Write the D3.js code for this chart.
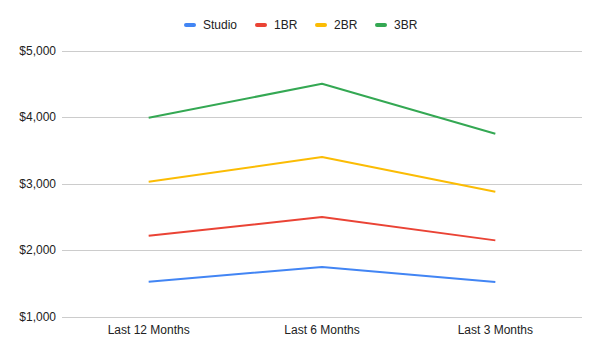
<!DOCTYPE html>
<html lang="en">
<head>
<meta charset="utf-8">
<script src="https://d3js.org/d3.v7.min.js"></script>
<style>
body { margin: 0; background: #fff; font-family: Arial, "Liberation Sans", sans-serif; }
.axis text { font: 12px Arial, "Liberation Sans", sans-serif; fill: #222; }
</style>
</head>
<body>
<script>
var width = 600, height = 355;

// data
var periods = ["Last 12 Months", "Last 6 Months", "Last 3 Months"];
var seriesNames = ["Studio", "1BR", "2BR", "3BR"];
var studio = [1530, 1750, 1525];
var br1 = [2220, 2500, 2150];
var br2 = [3030, 3400, 2880];
var br3 = [3990, 4500, 3750];
var yTicks = [1000, 2000, 3000, 4000, 5000];
var colors = ["#4285F4", "#EA4335", "#FBBC04", "#34A853"];

var allSeries = [studio, br1, br2, br3];

var svg = d3.select("body").append("svg")
  .attr("width", width)
  .attr("height", height);

var x = d3.scalePoint().domain(periods).range([62, 582]).padding(0.5);
var y = d3.scaleLinear().domain([1000, 5000]).range([317, 50.5]);

// gridlines
svg.append("g").selectAll("line")
  .data(yTicks)
  .enter().append("line")
  .attr("x1", 62).attr("x2", 582)
  .attr("y1", function(d) { return Math.round(y(d)) + 0.5; })
  .attr("y2", function(d) { return Math.round(y(d)) + 0.5; })
  .attr("stroke", "#cccccc")
  .attr("stroke-width", 1);

// y labels
svg.append("g").attr("class", "axis").selectAll("text")
  .data(yTicks)
  .enter().append("text")
  .attr("x", 56)
  .attr("y", function(d) { return y(d) + 4; })
  .attr("text-anchor", "end")
  .text(function(d) { return "$" + d3.format(",")(d); });

// x labels
svg.append("g").attr("class", "axis").selectAll("text")
  .data(periods)
  .enter().append("text")
  .attr("x", function(d) { return x(d); })
  .attr("y", 334)
  .attr("text-anchor", "middle")
  .text(function(d) { return d; });

// lines
var line = d3.line()
  .x(function(d, i) { return x(periods[i]); })
  .y(function(d) { return y(d); });

svg.append("g").selectAll("path")
  .data(allSeries)
  .enter().append("path")
  .attr("d", line)
  .attr("fill", "none")
  .attr("stroke", function(d, i) { return colors[i]; })
  .attr("stroke-width", 2)
  .attr("stroke-linejoin", "round");

// legend
var legendX = [184, 255, 315, 375];
var legend = svg.append("g").selectAll("g")
  .data(seriesNames)
  .enter().append("g")
  .attr("transform", function(d, i) { return "translate(" + legendX[i] + ",25)"; });

legend.append("rect")
  .attr("x", 0).attr("y", -2)
  .attr("width", 12).attr("height", 4)
  .attr("rx", 2)
  .attr("fill", function(d, i) { return colors[i]; });

legend.append("text")
  .attr("x", 19).attr("y", 4)
  .style("font", "12px Arial, 'Liberation Sans', sans-serif")
  .attr("fill", "#222")
  .text(function(d) { return d; });
</script>
</body>
</html>
